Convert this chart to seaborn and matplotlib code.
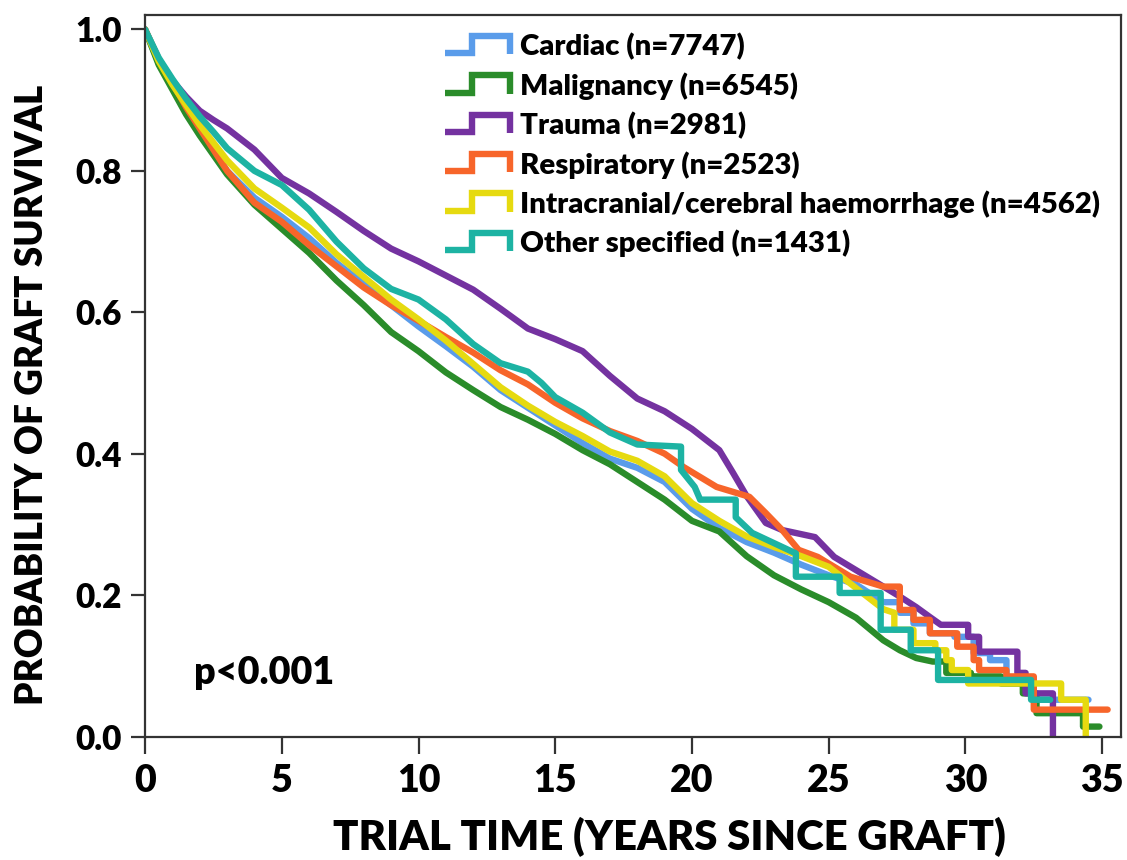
import numpy as np
import pandas as pd
import matplotlib
matplotlib.use("Agg")
import matplotlib.pyplot as plt
import seaborn as sns
from matplotlib.legend_handler import HandlerBase
from matplotlib.lines import Line2D

# ---------------- data ----------------
labels = [
    "Cardiac (n=7747)",
    "Malignancy (n=6545)",
    "Trauma (n=2981)",
    "Respiratory (n=2523)",
    "Intracranial/cerebral haemorrhage (n=4562)",
    "Other specified (n=1431)",
]
colors = ["#5A9CEA", "#2A8C2A", "#7432A0", "#F7652A", "#E6DA10", "#1DB3A3"]

cardiac_t = [0, 0.5, 1, 1.5, 2, 3, 4, 5, 6, 7, 8, 9, 10, 11, 12, 13, 14, 15, 16, 17, 18, 19, 20, 21, 22, 23, 24, 25, 26, 27,
             27.6, 27.6, 28.1, 28.1, 28.7, 28.7, 29.6, 29.6, 30.3, 30.3, 30.9, 30.9, 31.5, 31.5, 32.5, 32.5, 34.5]
cardiac_s = [1, 0.952, 0.918, 0.888, 0.86, 0.8, 0.762, 0.735, 0.705, 0.67, 0.64, 0.61, 0.58, 0.552, 0.523, 0.49, 0.465, 0.44,
             0.415, 0.393, 0.38, 0.36, 0.322, 0.295, 0.275, 0.26, 0.243, 0.228, 0.215, 0.19,
             0.19, 0.175, 0.175, 0.16, 0.16, 0.146, 0.146, 0.141, 0.141, 0.118, 0.118, 0.108, 0.108, 0.08, 0.08, 0.052, 0.052]

malig_t = [0, 0.5, 1, 1.5, 2, 3, 4, 5, 6, 7, 8, 9, 10, 11, 12, 13, 14, 15, 16, 17, 18, 19, 20, 21, 22, 23, 24, 25, 26, 26.5,
           27, 27.6, 28.2, 28.8, 29.3, 29.3, 30.2, 30.2, 31.3, 31.3, 32.1, 32.1, 32.6, 32.6, 34.3, 34.3, 34.9]
malig_s = [1, 0.95, 0.915, 0.88, 0.85, 0.795, 0.752, 0.718, 0.684, 0.645, 0.61, 0.572, 0.545, 0.515, 0.49, 0.466, 0.448, 0.428,
           0.405, 0.385, 0.36, 0.335, 0.305, 0.29, 0.255, 0.228, 0.208, 0.19, 0.168, 0.152,
           0.136, 0.122, 0.111, 0.106, 0.106, 0.09, 0.09, 0.085, 0.085, 0.075, 0.075, 0.061, 0.061, 0.033, 0.033, 0.014, 0.014]

trauma_t = [0, 0.5, 1, 1.5, 2, 2.5, 3, 4, 5, 6, 7, 8, 9, 10, 11, 12, 13, 14, 15, 16, 17, 18, 19, 20, 21, 21.5, 22, 22.7, 23.3,
            24.5, 25.2, 25.8, 27, 27.6, 28.2, 28.7, 29.1, 30.1, 30.1, 30.5, 30.5, 31.9, 31.9, 32.2, 32.2, 33.2, 33.2]
trauma_s = [1, 0.958, 0.928, 0.905, 0.885, 0.872, 0.86, 0.83, 0.79, 0.768, 0.742, 0.715, 0.69, 0.672, 0.652, 0.632, 0.605, 0.577,
            0.562, 0.545, 0.51, 0.478, 0.46, 0.435, 0.405, 0.373, 0.34, 0.302, 0.292,
            0.282, 0.254, 0.24, 0.212, 0.198, 0.183, 0.169, 0.158, 0.158, 0.141, 0.141, 0.12, 0.12, 0.09, 0.09, 0.061, 0.061, 0.0]

resp_t = [0, 0.5, 1, 1.5, 2, 3, 4, 5, 6, 7, 8, 9, 10, 11, 12, 13, 14, 15, 16, 17, 18, 19, 19.7, 20.9, 22.1, 22.7, 23.3, 23.9,
          24.6, 25.8, 27, 27.6, 27.6, 28.1, 28.1, 28.7, 28.7, 29.7, 29.7, 30.3, 30.3, 30.5, 30.5, 31.5, 31.5, 32.5, 32.5, 35.2]
resp_s = [1, 0.958, 0.925, 0.89, 0.86, 0.8, 0.755, 0.728, 0.695, 0.665, 0.635, 0.61, 0.588, 0.565, 0.543, 0.518, 0.498, 0.472,
          0.45, 0.432, 0.418, 0.4, 0.381, 0.353, 0.339, 0.316, 0.292, 0.264,
          0.254, 0.226, 0.212, 0.212, 0.179, 0.179, 0.165, 0.165, 0.146, 0.146, 0.127, 0.127, 0.108, 0.108, 0.094, 0.094,
          0.085, 0.085, 0.038, 0.038]

intra_t = [0, 0.5, 1, 1.5, 2, 3, 4, 5, 6, 7, 8, 9, 10, 11, 12, 13, 14, 15, 16, 17, 18, 19, 20, 21, 22, 23, 24, 25, 26, 27,
           27.4, 27.4, 28.1, 28.1, 28.9, 28.9, 29.3, 29.3, 29.5, 29.5, 30.1, 30.1, 33.5, 33.5, 34.4, 34.4]
intra_s = [1, 0.955, 0.922, 0.893, 0.865, 0.815, 0.775, 0.748, 0.72, 0.682, 0.65, 0.618, 0.59, 0.56, 0.527, 0.494, 0.468,
           0.445, 0.425, 0.403, 0.39, 0.368, 0.33, 0.305, 0.283, 0.268, 0.255, 0.24, 0.21, 0.18,
           0.175, 0.151, 0.151, 0.132, 0.132, 0.122, 0.122, 0.108, 0.108, 0.094, 0.094, 0.075, 0.075, 0.052, 0.052, 0.0]

other_t = [0, 0.5, 1, 1.5, 2, 2.5, 3, 4, 5, 6, 7, 8, 9, 10, 11, 12, 13, 14, 14.5, 15, 16, 17, 18, 19.6, 19.6, 20.1, 20.3,
           21.6, 21.6, 22.2, 23.8, 23.8, 25.4, 25.4, 26.9, 26.9, 28.0, 28.0, 29.0, 29.0, 32.4, 32.4, 33.1]
other_s = [1, 0.96, 0.93, 0.902, 0.877, 0.855, 0.832, 0.8, 0.78, 0.745, 0.7, 0.662, 0.633, 0.618, 0.59, 0.555, 0.528, 0.516,
           0.5, 0.48, 0.458, 0.43, 0.413, 0.41, 0.377, 0.353, 0.335,
           0.335, 0.31, 0.288, 0.259, 0.226, 0.226, 0.203, 0.203, 0.151, 0.151, 0.122, 0.122, 0.08, 0.08, 0.052, 0.052]

x_ticks = [0, 5, 10, 15, 20, 25, 30, 35]
y_ticks = [0.0, 0.2, 0.4, 0.6, 0.8, 1.0]

series_t = [cardiac_t, malig_t, trauma_t, resp_t, intra_t, other_t]
series_s = [cardiac_s, malig_s, trauma_s, resp_s, intra_s, other_s]

rows = []
for lab, ts, ss in zip(labels, series_t, series_s):
    for t, s in zip(ts, ss):
        rows.append({"time": t, "surv": s, "group": lab})
df = pd.DataFrame(rows)

# ---------------- style ----------------
sns.set_theme(style="ticks")
plt.rcParams["font.family"] = ["Lato", "DejaVu Sans"]
plt.rcParams["font.weight"] = "heavy"
plt.rcParams["text.color"] = "black"
plt.rcParams["axes.labelcolor"] = "black"
plt.rcParams["xtick.color"] = "#333333"
plt.rcParams["ytick.color"] = "#333333"
plt.rcParams["xtick.labelcolor"] = "black"
plt.rcParams["ytick.labelcolor"] = "black"

W, H, DPI = 11.27, 8.6, 100
WEIGHT = "heavy"
fig = plt.figure(figsize=(W, H), dpi=DPI)
ax = fig.add_axes([0.1287, 0.1436, 0.866, 0.839])

sns.lineplot(data=df, x="time", y="surv", hue="group", hue_order=labels,
             palette=dict(zip(labels, colors)), estimator=None, sort=False,
             linewidth=4.6, ax=ax, legend=True)

ax.set_xlim(0, 35.69)
ax.set_ylim(0, 1.0205)
ax.set_xticks(x_ticks)
ax.set_xticklabels([str(v) for v in x_ticks])
ax.set_yticks(y_ticks)
ax.set_yticklabels([f"{v:.1f}" for v in y_ticks])

for sp in ax.spines.values():
    sp.set_visible(True)
    sp.set_color("#333333")
    sp.set_linewidth(1.6)

ax.tick_params(axis="x", length=12, width=1.6, pad=8, labelsize=27)
ax.tick_params(axis="y", length=10, width=1.6, pad=7, labelsize=24)
for lab in ax.get_xticklabels() + ax.get_yticklabels():
    lab.set_fontweight(WEIGHT)

xl = ax.set_xlabel("TRIAL TIME (YEARS SINCE GRAFT)", fontsize=28, fontweight=WEIGHT)
yl = ax.set_ylabel("PROBABILITY OF GRAFT SURVIVAL", fontsize=27, fontweight=WEIGHT)
ptxt = ax.text(1.8, 0.09, "p<0.001", fontsize=28, fontweight=WEIGHT, va="center", ha="left")


class StepHandler(HandlerBase):
    def create_artists(self, legend, orig_handle, xdescent, ydescent, width, height, fontsize, trans):
        x0 = -xdescent
        y0 = -ydescent
        xs = [x0, x0 + 0.42 * width, x0 + 0.42 * width, x0 + width, x0 + width]
        ys = [y0 + 0.1 * height, y0 + 0.1 * height, y0 + 0.95 * height, y0 + 0.95 * height, y0 + 0.05 * height]
        line = Line2D(xs, ys, color=orig_handle.get_color(), linewidth=4.6,
                      solid_joinstyle="miter", solid_capstyle="butt")
        line.set_transform(trans)
        return [line]


handles, labs = ax.get_legend_handles_labels()


def make_legend(fs, spacing):
    fs_px = fs * DPI / 72.0
    leg = ax.legend(handles, labs, loc="upper left", bbox_to_anchor=(0.307, 0.975),
                    frameon=False, fontsize=fs, handlelength=65.0 / fs_px, handleheight=0.7,
                    handletextpad=10.0 / fs_px, labelspacing=spacing, borderaxespad=0.0,
                    borderpad=0.0, handler_map={Line2D: StepHandler()})
    for t in leg.get_texts():
        t.set_fontweight(WEIGHT)
        t.set_color("black")
    return leg


# fit text widths to the reference proportions
fig.canvas.draw()
r = fig.canvas.get_renderer()


def fit(txt, target_px, axis="w"):
    bb = txt.get_window_extent(r)
    cur = bb.width if axis == "w" else bb.height
    txt.set_fontsize(txt.get_fontsize() * target_px / cur)


fit(xl, 672)
fit(yl, 620, axis="h")
fit(ptxt, 140)

fs = 21.0
leg = make_legend(fs, 0.2)
fig.canvas.draw()
longest = leg.get_texts()[4].get_window_extent(r).width
fs = fs * 580.0 / longest
spacing = 0.2
for _ in range(3):
    leg = make_legend(fs, spacing)
    fig.canvas.draw()
    tx = leg.get_texts()
    c0 = tx[0].get_window_extent(r)
    c5 = tx[5].get_window_extent(r)
    actual = ((c0.y0 + c0.y1) - (c5.y0 + c5.y1)) / 2.0 / 5.0
    spacing += (39.4 - actual) / (fs * DPI / 72.0)

# label positions (axes fraction), matching reference placement
ax_w_px = 0.866 * W * DPI
ax_h_px = 0.839 * H * DPI
xl.set_verticalalignment("center")
ax.xaxis.set_label_coords((669 - 145) / ax_w_px, (736.5 - 837) / ax_h_px)
yl.set_rotation_mode("anchor")
ax.yaxis.set_label_coords((32 - 145) / ax_w_px, (736.5 - 395) / ax_h_px)
yl.set_verticalalignment("center")

fig.savefig("out.png", dpi=DPI)
